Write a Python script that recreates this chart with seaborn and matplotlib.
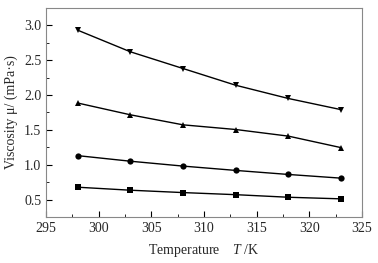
import matplotlib
matplotlib.use("Agg")
import matplotlib.pyplot as plt
import seaborn as sns
import numpy as np
import pandas as pd
from matplotlib.ticker import MultipleLocator

# data
temperature = [298, 303, 308, 313, 318, 323]
visc_square = [0.677, 0.634, 0.600, 0.570, 0.533, 0.510]
visc_circle = [1.13, 1.05, 0.98, 0.918, 0.86, 0.807]
visc_up = [1.885, 1.716, 1.572, 1.505, 1.41, 1.245]
visc_down = [2.93, 2.62, 2.38, 2.14, 1.95, 1.79]
series_names = ["s1", "s2", "s3", "s4"]

df = pd.DataFrame({
    "T": temperature * 4,
    "mu": visc_square + visc_circle + visc_up + visc_down,
    "series": np.repeat(series_names, len(temperature)),
})

sns.set_style("ticks")
plt.rcParams["font.family"] = ["Liberation Serif", "DejaVu Serif"]
plt.rcParams["mathtext.fontset"] = "custom"
plt.rcParams["mathtext.it"] = "Liberation Serif:italic"
plt.rcParams["mathtext.rm"] = "Liberation Serif"

fig = plt.figure(figsize=(3.78, 2.63), dpi=100)
ax = fig.add_axes([0.122, 0.175, 0.836, 0.795])

sns.lineplot(data=df, x="T", y="mu", hue="series", style="series",
             palette=["black"] * 4, markers=["s", "o", "^", "v"], dashes=False,
             markersize=4.5, markeredgewidth=0, linewidth=1.0, legend=False, ax=ax)

ax.set_xlim(295, 325)
ax.set_ylim(0.25, 3.25)
ax.xaxis.set_major_locator(MultipleLocator(5))
ax.xaxis.set_minor_locator(MultipleLocator(2.5))
ax.yaxis.set_major_locator(MultipleLocator(0.5))
ax.yaxis.set_minor_locator(MultipleLocator(0.25))
ax.tick_params(which="both", direction="in", labelsize=10, color="black")
ax.tick_params(which="major", length=4)
ax.tick_params(which="minor", length=2.5)
for s in ax.spines.values():
    s.set_color("#888888")
    s.set_linewidth(0.8)

ax.set_ylabel("Viscosity μ/ (mPa·s)", fontsize=10)
ax.set_xlabel("Temperature    $T$ /K", fontsize=10, labelpad=5)

fig.savefig("out.png", dpi=100)
